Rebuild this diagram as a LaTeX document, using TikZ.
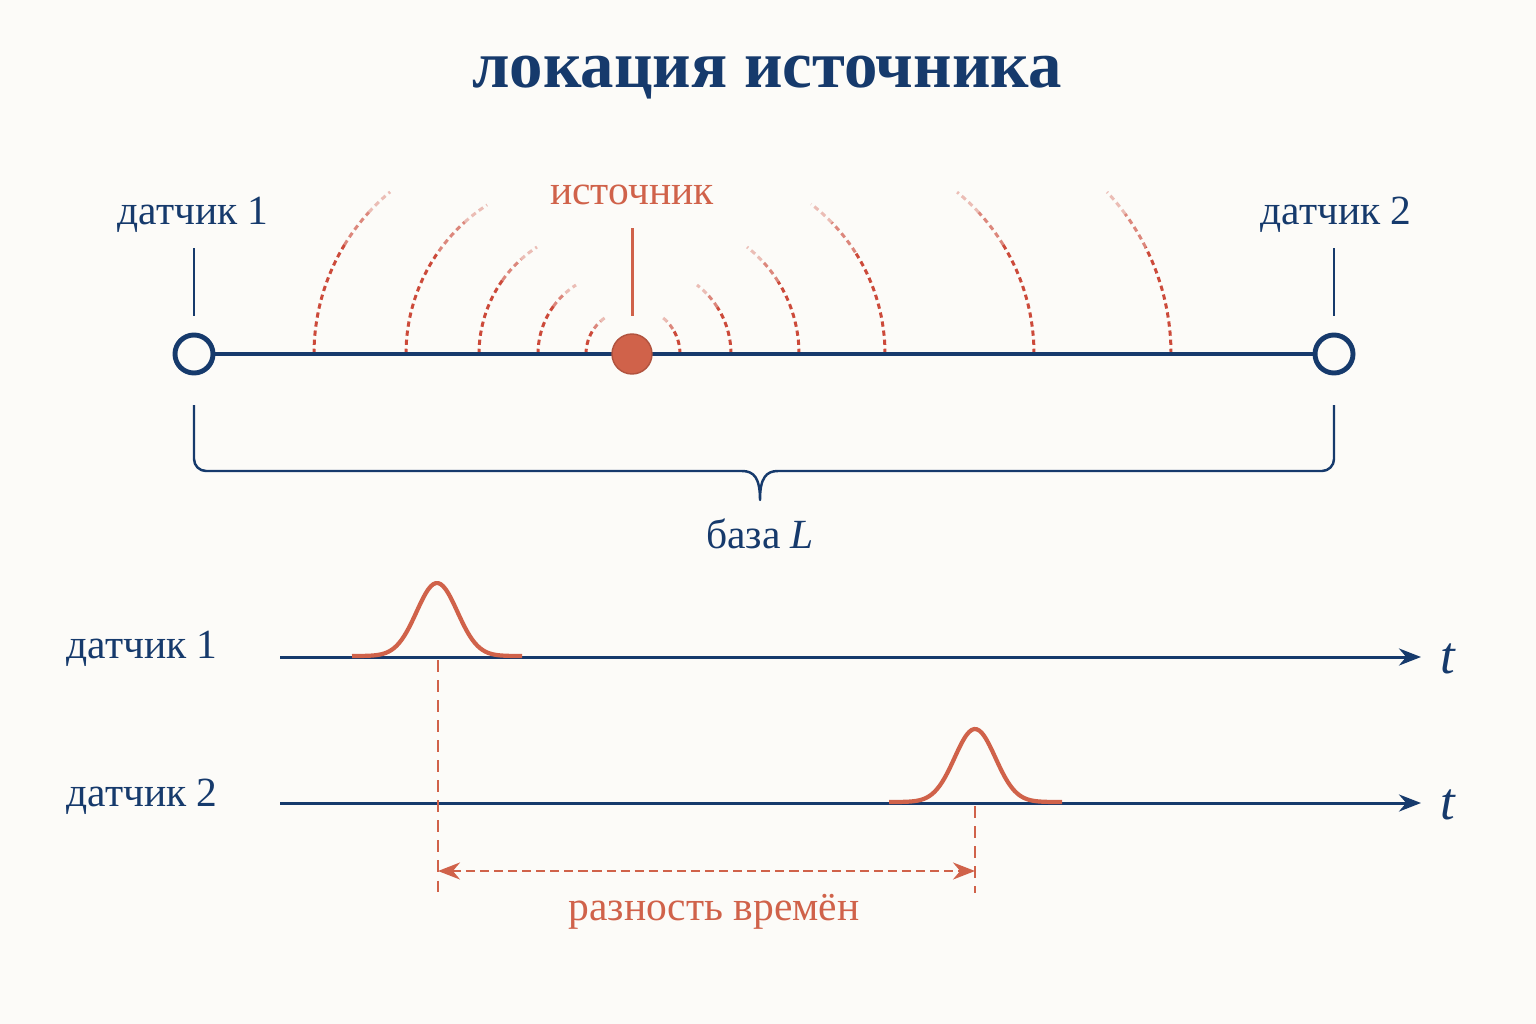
\documentclass[tikz,border=0pt]{standalone}
\usepackage{fontspec}
\setmainfont{Liberation Serif}
\usetikzlibrary{positioning}
\usetikzlibrary{arrows.meta}
\definecolor{baseColor}{RGB}{22,58,108}
\definecolor{srcColor}{RGB}{208,98,74}
\definecolor{waveColor}{RGB}{204,74,58}
\definecolor{paperColor}{RGB}{252,251,248}

% one wave front, fading out towards its upper end
\newcommand{\wavearc}[4]{%
  \pgfmathsetmacro{\waveA}{#3+0.62*(#4-#3)}%
  \pgfmathsetmacro{\waveB}{#3+0.84*(#4-#3)}%
  \draw[waveEdge] #1 arc[start angle=#3, end angle=\waveA, radius=#2] coordinate (wa);
  \draw[waveEdge, opacity=0.65] (wa) arc[start angle=\waveA, end angle=\waveB, radius=#2] coordinate (wb);
  \draw[waveEdge, opacity=0.35] (wb) arc[start angle=\waveB, end angle=#4, radius=#2];
}

\begin{document}
\begin{tikzpicture}[x=0.01cm,y=0.01cm]

          \tikzstyle{titleNode} = [baseColor, font=\fontsize{19}{23}\selectfont\bfseries];
          \tikzstyle{labelNode} = [baseColor, font=\fontsize{11.8}{14}\selectfont];
          \tikzstyle{srcNode} = [srcColor, font=\fontsize{11.8}{14}\selectfont];
          \tikzstyle{sensorNode} = [circle, draw=baseColor, line width=1.4pt, fill=paperColor, minimum size=0.38cm, inner sep=0pt];
          \tikzstyle{dotNode} = [circle, fill=srcColor, draw=srcColor!85!black, line width=0.4pt, minimum size=0.40cm, inner sep=0pt];

          \tikzstyle{baseEdge} = [baseColor, line width=1.4pt];
          \tikzstyle{tickEdge} = [baseColor, line width=0.7pt];
          \tikzstyle{srcEdge} = [srcColor, line width=0.85pt];
          \tikzstyle{waveEdge} = [waveColor, line width=0.85pt, dash pattern=on 1.5pt off 1.1pt];
          \tikzstyle{axisEdge} = [baseColor, line width=0.85pt, -{Stealth[length=0.22cm, width=0.17cm]}];
          \tikzstyle{pulseEdge} = [srcColor, line width=1.2pt, line join=round];
          \tikzstyle{markEdge} = [srcColor, line width=0.7pt, dash pattern=on 3.4pt off 2.3pt];
          \tikzstyle{gapEdge} = [srcColor, line width=0.75pt, dash pattern=on 2.6pt off 1.4pt, {Stealth[length=0.22cm, width=0.17cm]}-{Stealth[length=0.22cm, width=0.17cm]}];

          \fill[paperColor] (0,0) rectangle (1536,-1024);
          \useasboundingbox (0,0) rectangle (1536,-1024);

          \node[titleNode] (title) at (767,-78) {локация источника};

          % wave fronts round the source
          \wavearc{(314,-354)}{210.7}{180}{129.7}
          \wavearc{(406,-354)}{177.5}{180}{122.9}
          \wavearc{(479,-354)}{127.7}{180}{123.1}
          \wavearc{(538,-354)}{81.6}{180}{122.3}
          \wavearc{(586,-354)}{44.2}{180}{123.2}
          \wavearc{(680,-354)}{47}{0}{51.9}
          \wavearc{(731,-354)}{87}{0}{52.5}
          \wavearc{(799,-354)}{136.1}{0}{51.8}
          \wavearc{(885,-354)}{189}{0}{52.5}
          \wavearc{(1034,-354)}{208.9}{0}{50.8}
          \wavearc{(1171,-354)}{237}{0}{43.1}

          \node[labelNode] (lab1) at (193,-215) {датчик 1};
          \node[labelNode] (lab2) at (1336,-215) {датчик 2};
          \node[srcNode] (srcLab) at (632,-195) {источник};

          \node[sensorNode] (s1) at (194,-354) {};
          \node[sensorNode] (s2) at (1334,-354) {};
          \draw[baseEdge] (s1) -- (s2);
          \node[dotNode] (src) at (632,-354) {};

          \coordinate (t1top) at (194,-248);
          \coordinate (t1bot) at (194,-316);
          \coordinate (t2top) at (1334,-248);
          \coordinate (t2bot) at (1334,-316);
          \coordinate (srctop) at (632,-228);
          \coordinate (srcbot) at (632,-316);
          \draw[tickEdge] (t1top) -- (t1bot);
          \draw[tickEdge] (t2top) -- (t2bot);
          \draw[srcEdge] (srctop) -- (srcbot);

          % base brace
          \coordinate (b1) at (194,-405);
          \coordinate (b2) at (1334,-405);
          \coordinate (btip) at (760,-500);
          \draw[tickEdge, line join=round] (b1) -- (194,-459) arc[start angle=180, end angle=270, radius=12]
            -- (742,-471) .. controls (754,-471) and (760,-478) .. (btip)
            .. controls (760,-478) and (766,-471) .. (778,-471)
            -- (1322,-471) arc[start angle=270, end angle=360, radius=12] -- (b2);
          \node[labelNode] (baseLab) at (760,-534) {база \textit{L}};

          % time axes
          \node[labelNode] (row1) at (142,-649) {датчик 1};
          \node[labelNode] (row2) at (142,-797) {датчик 2};
          \coordinate (ax1a) at (280,-657);
          \coordinate (ax1b) at (1421,-657);
          \coordinate (ax2a) at (280,-803);
          \coordinate (ax2b) at (1421,-803);
          \draw[axisEdge] (ax1a) -- (ax1b);
          \draw[axisEdge] (ax2a) -- (ax2b);
          \node[labelNode, font=\fontsize{15}{18}\selectfont\itshape] (tA) at (1448,-659) {t};
          \node[labelNode, font=\fontsize{15}{18}\selectfont\itshape] (tB) at (1448,-805) {t};

          % pulses
          \draw[pulseEdge] plot[domain=352:522, samples=70, smooth] (\x, {-656 + 73*exp(-((\x-437)/20.4)^2/2)});
          \draw[pulseEdge] plot[domain=889:1062, samples=70, smooth] (\x, {-802 + 73*exp(-((\x-975)/20.4)^2/2)});

          % time difference
          \coordinate (m1top) at (438,-660);
          \coordinate (m1bot) at (438,-893);
          \coordinate (m2top) at (975,-806);
          \coordinate (m2bot) at (975,-893);
          \coordinate (g1) at (438,-871);
          \coordinate (g2) at (975,-871);
          \draw[markEdge] (m1top) -- (m1bot);
          \draw[markEdge] (m2top) -- (m2bot);
          \draw[gapEdge] (g1) -- (g2);
          \node[srcNode] (gapLab) at (714,-912) {разность времён};
        \end{tikzpicture}
\end{document}
